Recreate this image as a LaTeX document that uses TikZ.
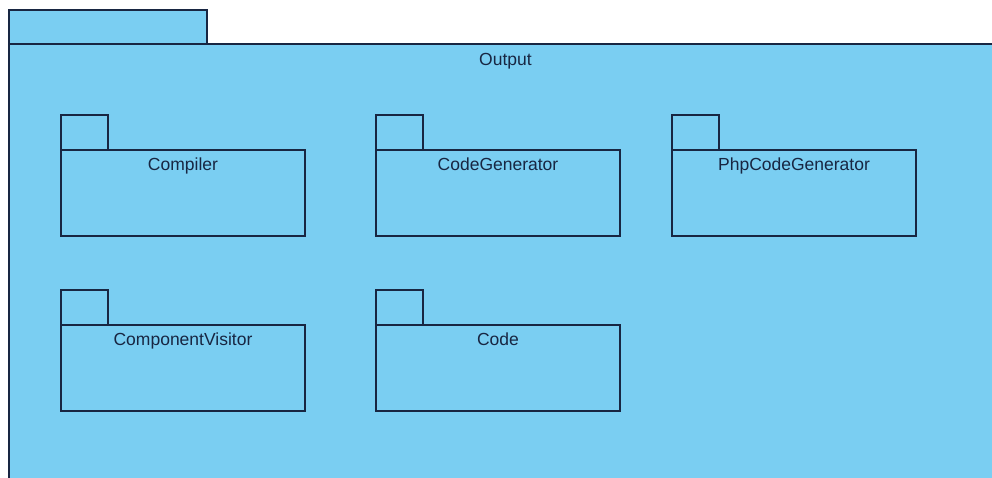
\documentclass[tikz,border=0pt]{standalone}
\usepackage{fontspec}
\setmainfont{Liberation Sans}
\usetikzlibrary{positioning}

\definecolor{pkgfill}{RGB}{122,206,242}
\definecolor{pkgline}{RGB}{24,38,66}

\begin{document}
\begin{tikzpicture}[x=1pt,y=-1pt]
\tikzstyle{pkg}=[draw=pkgline,fill=pkgfill,line width=1.5pt]
\tikzstyle{pkgname}=[text=pkgline,font=\fontsize{17.5}{20}\selectfont,inner sep=0,anchor=base]
\useasboundingbox (0,0) rectangle (992,477);
\clip (0,0) rectangle (992,477);
% outer package, runs off to the right and bottom
\draw[pkg] (9,10) rectangle (207,44);
\draw[pkg] (9,44) rectangle (1002,495);
\node[pkgname] (Output) at (505.5,65) {Output};
% packages inside
\foreach \x/\y/\n in {61/150/Compiler,376/150/CodeGenerator,672/150/PhpCodeGenerator,61/325/ComponentVisitor,376/325/Code}{
\draw[pkg] (\x,\y-35) rectangle (\x+47,\y);
\draw[pkg] (\x,\y) rectangle (\x+244,\y+86);
\node[pkgname] (\n) at (\x+122,\y+20.5) {\n};
}
\end{tikzpicture}
\end{document}
